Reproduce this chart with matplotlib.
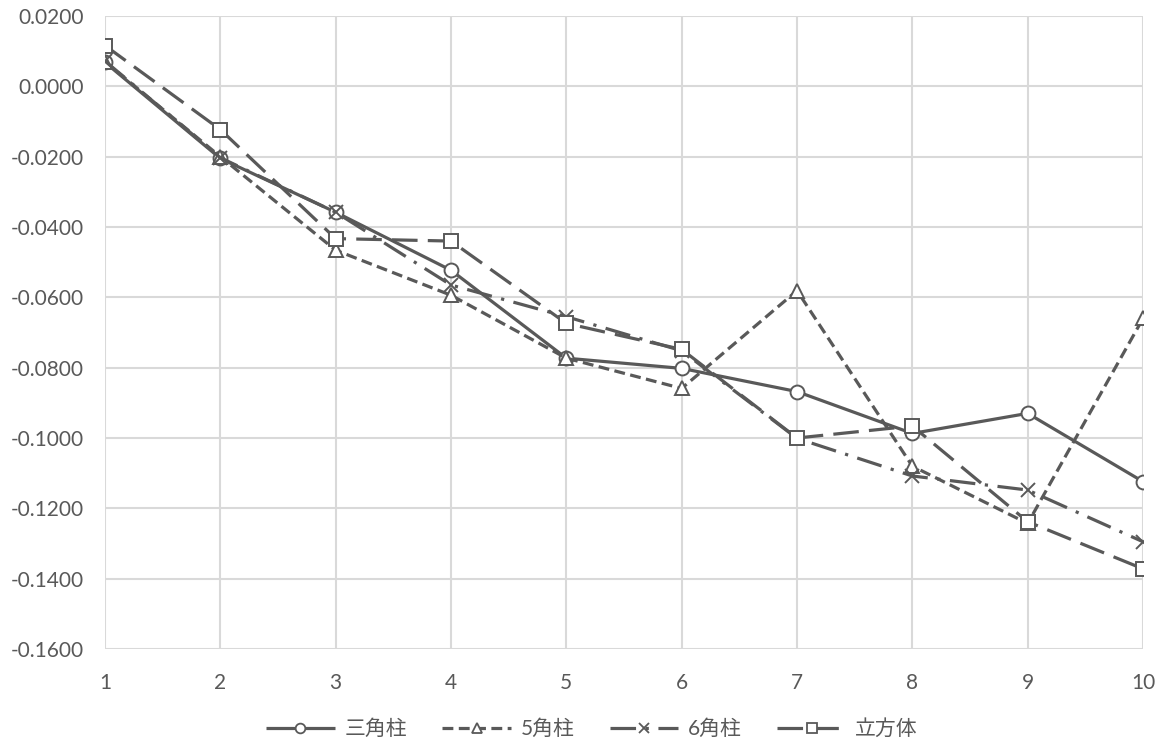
import matplotlib
matplotlib.use("Agg")
import matplotlib.pyplot as plt
from matplotlib.lines import Line2D
from matplotlib.ticker import FuncFormatter

plt.rcParams["font.family"] = ["Lato", "Noto Sans CJK JP", "DejaVu Sans"]

# step number on the x axis
steps = [1, 2, 3, 4, 5, 6, 7, 8, 9, 10]

# measured values per shape
triangular = [0.0068, -0.0205, -0.0358, -0.0523, -0.0773, -0.0802, -0.0868, -0.0987, -0.0930, -0.1124]
pentagonal = [0.0070, -0.0200, -0.0466, -0.0594, -0.0773, -0.0859, -0.0581, -0.1080, -0.1243, -0.0660]
hexagonal = [0.0072, -0.0203, -0.0358, -0.0565, -0.0655, -0.0752, -0.1001, -0.1108, -0.1148, -0.1295]
cube = [0.0116, -0.0123, -0.0433, -0.0440, -0.0674, -0.0748, -0.1000, -0.0966, -0.1238, -0.1372]

labels = ["三角柱", "5角柱", "6角柱", "立方体"]
yticks = [0.02, 0.0, -0.02, -0.04, -0.06, -0.08, -0.10, -0.12, -0.14, -0.16]

line_color = "#595959"
text_color = "#595959"
grid_color = "#d9d9d9"

fig = plt.figure(figsize=(11.65, 7.49), dpi=100)
ax = fig.add_axes([105 / 1165, 1 - 649 / 749, (1143 - 105) / 1165, (649 - 16) / 749])

series = [
    (triangular, "o", (0, ()), labels[0]),
    (pentagonal, "^", (0, (3.4, 1.7)), labels[1]),
    (hexagonal, "x", (0, (8, 3, 1, 3)), labels[2]),
    (cube, "s", (0, (8, 3.2)), labels[3]),
]
handles = []
for values, marker, dashes, label in series:
    ax.plot(
        steps, values, color=line_color, linewidth=2.3, linestyle=dashes,
        marker=marker, markersize=10, markerfacecolor="white",
        markeredgecolor=line_color, markeredgewidth=1.4,
    )
    handles.append(Line2D(
        [], [], color=line_color, linewidth=2.3, linestyle=dashes,
        marker=marker, markersize=7, markerfacecolor="white",
        markeredgecolor=line_color, markeredgewidth=1.3, label=label,
    ))

ax.set_xlim(1, 10)
ax.set_ylim(-0.16, 0.02)
ax.set_xticks(steps)
ax.set_yticks(yticks)
ax.yaxis.set_major_formatter(FuncFormatter(lambda v, _: f"{v:.4f}" if abs(v) > 1e-9 else "0.0000"))
ax.grid(True, color=grid_color, linewidth=1.5)
ax.set_axisbelow(True)
for side in ["top", "right", "left", "bottom"]:
    ax.spines[side].set_visible(False)
ax.tick_params(length=0, labelsize=15, colors=text_color)
ax.tick_params(axis="y", pad=15)
ax.tick_params(axis="x", pad=17)

fig.legend(
    handles=handles, loc="center", bbox_to_anchor=(592 / 1165, 1 - 729 / 749),
    ncol=4, frameon=False, fontsize=15, handlelength=3.3, columnspacing=1.7,
    handletextpad=0.45, labelcolor=text_color,
)

fig.savefig("out.png", dpi=100)
